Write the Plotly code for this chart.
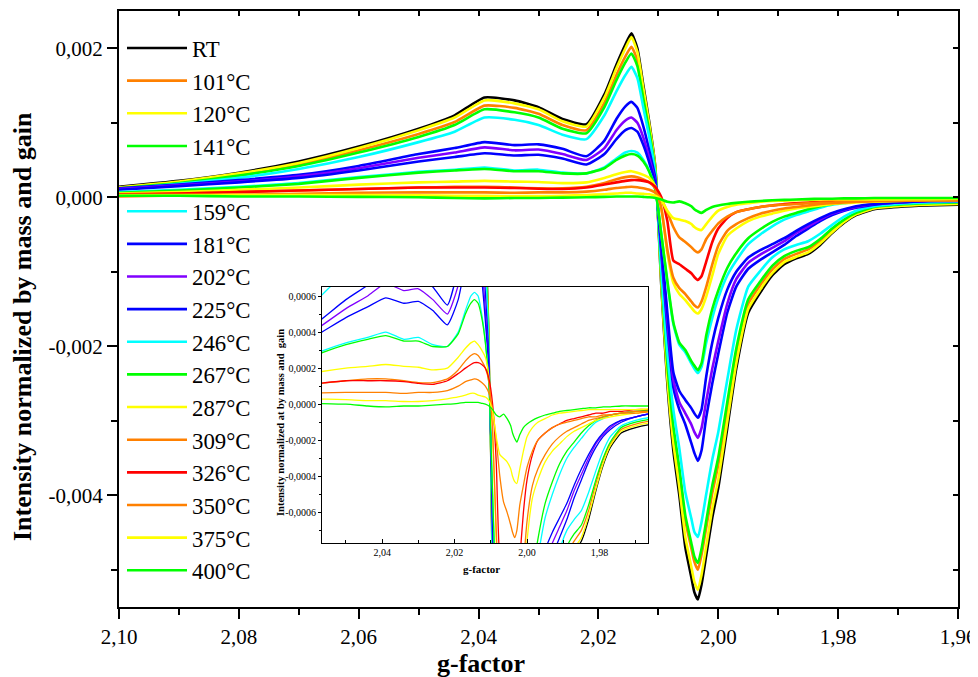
import plotly.graph_objects as go

# ---------------- data (intensity values in units of 1e-4) ----------------
G_FACTOR = [2.100, 2.090, 2.080, 2.070, 2.060, 2.050, 2.044, 2.039, 2.034, 2.030,
            2.026, 2.022, 2.019, 2.017, 2.0155, 2.0145, 2.0135, 2.0125, 2.0115, 2.0105,
            2.0095, 2.0085, 2.0075, 2.0065, 2.0055, 2.0045, 2.0040, 2.0034, 2.0028, 2.0020,
            2.0010, 2.0000, 1.9985, 1.9970, 1.9950, 1.9930, 1.9910, 1.9890, 1.9870, 1.9850,
            1.9830, 1.9810, 1.9790, 1.9770, 1.9740, 1.9700, 1.9650, 1.9600]

LABELS = ["RT", "101°C", "120°C", "141°C", "159°C", "181°C", "202°C", "225°C",
          "246°C", "267°C", "287°C", "309°C", "326°C", "350°C", "375°C", "400°C"]

RT = [1.4, 2.2, 3.3, 4.8, 6.8, 9.2, 11.0, 13.4, 13.0, 12.1,
      10.5, 9.8, 13.8, 17.8, 20.5, 22.0, 20.0, 15.0, 10.0, 4.0,
      -12.0, -25.0, -34.0, -40.0, -47.0, -51.0, -53.0, -54.0, -52.0, -48.0,
      -43.0, -39.0, -31.0, -23.0, -15.5, -12.8, -10.5, -9.0, -8.2, -7.6,
      -6.4, -4.8, -3.4, -2.4, -1.6, -1.3, -1.1, -1.0]
T101 = [1.3, 2.0, 3.0, 4.4, 6.3, 8.5, 10.1, 12.3, 12.0, 11.2,
        9.7, 9.0, 12.7, 16.4, 18.9, 20.2, 18.4, 13.8, 9.2, 3.6,
        -10.9, -23.0, -31.3, -36.9, -43.4, -47.1, -48.9, -50.0, -48.0, -44.3,
        -39.7, -35.9, -28.5, -21.2, -14.3, -11.8, -9.7, -8.3, -7.6, -7.0,
        -5.9, -4.4, -3.1, -2.2, -1.4, -1.1, -0.9, -0.8]
T120 = [1.3, 2.1, 3.2, 4.6, 6.6, 9.0, 10.7, 13.0, 12.6, 11.8,
        10.2, 9.5, 13.4, 17.3, 20.0, 21.5, 19.5, 14.6, 9.7, 3.8,
        -11.6, -24.3, -33.0, -38.9, -45.6, -49.6, -51.6, -52.7, -50.7, -46.8,
        -41.8, -37.9, -30.1, -22.3, -15.0, -12.4, -10.2, -8.7, -8.0, -7.4,
        -6.2, -4.7, -3.3, -2.3, -1.5, -1.2, -1.0, -0.9]
T141 = [1.2, 1.9, 2.9, 4.2, 6.0, 8.1, 9.7, 11.8, 11.4, 10.7,
        9.2, 8.6, 12.1, 15.7, 18.1, 19.3, 17.6, 13.2, 8.8, 3.4,
        -10.6, -22.4, -30.7, -36.3, -42.7, -46.4, -48.2, -49.1, -47.2, -43.4,
        -38.7, -34.9, -27.5, -20.3, -13.7, -11.3, -9.2, -7.9, -7.2, -6.7,
        -5.6, -4.2, -3.0, -2.1, -1.3, -1.0, -0.8, -0.7]
T159 = [1.1, 1.8, 2.6, 3.8, 5.4, 7.4, 8.8, 10.7, 10.4, 9.7,
        8.4, 7.8, 11.0, 14.2, 16.4, 17.5, 16.0, 12.0, 8.0, 3.1,
        -9.9, -20.8, -28.5, -33.7, -39.6, -43.1, -44.9, -45.6, -43.6, -39.8,
        -35.2, -31.5, -24.5, -17.8, -12.0, -9.9, -8.1, -7.0, -6.4, -5.9,
        -4.9, -3.7, -2.6, -1.8, -1.2, -0.9, -0.7, -0.6]
T181 = [1.2, 1.7, 2.3, 3.0, 4.2, 5.8, 6.6, 7.4, 7.0, 7.1,
        6.5, 5.5, 7.6, 10.5, 12.2, 12.8, 12.0, 9.5, 6.2, 2.5,
        -7.5, -17.5, -25.5, -28.5, -30.5, -33.0, -34.3, -35.4, -34.0, -29.5,
        -25.0, -21.0, -15.5, -12.0, -9.6, -8.4, -7.4, -6.4, -5.2, -4.2,
        -3.2, -2.4, -1.8, -1.4, -1.0, -0.7, -0.5, -0.5]
T202 = [1.1, 1.6, 2.1, 2.8, 3.9, 5.3, 6.0, 6.7, 6.3, 6.4,
        5.8, 5.0, 6.6, 9.0, 10.3, 10.7, 10.0, 8.0, 5.2, 2.0,
        -7.0, -16.5, -24.5, -27.5, -29.0, -30.5, -31.5, -32.3, -31.0, -27.3,
        -23.0, -19.3, -14.3, -11.0, -8.8, -7.7, -6.8, -5.9, -4.8, -3.9,
        -3.0, -2.2, -1.7, -1.3, -0.9, -0.7, -0.5, -0.5]
T225 = [1.0, 1.5, 2.0, 2.6, 3.6, 4.8, 5.4, 5.9, 5.6, 5.7,
        5.2, 4.4, 5.8, 7.8, 9.0, 9.3, 8.8, 7.0, 4.6, 1.8,
        -6.5, -15.5, -23.5, -26.0, -27.2, -28.3, -29.0, -29.6, -28.5, -24.0,
        -19.5, -16.2, -12.4, -10.0, -8.1, -7.1, -6.3, -5.5, -4.5, -3.6,
        -2.8, -2.1, -1.6, -1.2, -0.9, -0.7, -0.5, -0.4]
T246 = [0.7, 1.0, 1.4, 1.9, 2.7, 3.4, 3.7, 4.0, 3.6, 3.7,
        3.3, 3.2, 4.0, 5.2, 6.0, 6.2, 6.0, 5.0, 3.5, 1.0,
        -5.0, -11.5, -17.0, -19.8, -20.8, -22.3, -23.0, -23.6, -22.8, -19.5,
        -16.2, -13.5, -10.5, -8.5, -6.3, -5.0, -3.9, -3.0, -2.4, -1.9,
        -1.4, -1.0, -0.8, -0.6, -0.5, -0.4, -0.3, -0.3]
T267 = [0.6, 0.9, 1.3, 1.8, 2.6, 3.3, 3.6, 3.8, 3.5, 3.5,
        3.2, 3.2, 3.9, 5.0, 5.6, 5.8, 5.6, 4.8, 3.4, 1.0,
        -5.0, -11.2, -16.8, -19.5, -20.5, -22.0, -22.6, -23.2, -22.3, -18.5,
        -15.0, -12.5, -9.5, -7.5, -5.5, -4.3, -3.3, -2.6, -2.1, -1.6,
        -1.2, -0.9, -0.7, -0.6, -0.5, -0.4, -0.3, -0.3]
T287 = [0.5, 0.7, 1.0, 1.3, 1.7, 2.0, 2.1, 2.2, 2.1, 2.05,
        1.9, 2.0, 2.6, 3.1, 3.4, 3.5, 3.3, 3.0, 2.6, 1.5,
        -1.5, -7.5, -11.5, -13.0, -13.8, -14.8, -15.3, -15.6, -15.0, -13.3,
        -10.5, -7.6, -5.2, -4.2, -3.2, -2.6, -2.2, -1.8, -1.5, -1.3,
        -1.1, -0.9, -0.8, -0.7, -0.6, -0.5, -0.4, -0.4]
T309 = [0.3, 0.5, 0.7, 0.9, 1.1, 1.3, 1.4, 1.4, 1.3, 1.2,
        1.2, 1.4, 1.9, 2.4, 2.7, 2.8, 2.7, 2.4, 2.0, 1.2,
        -1.5, -7.0, -10.8, -12.2, -13.0, -14.0, -14.5, -14.8, -14.0, -12.0,
        -9.0, -6.5, -4.5, -3.6, -2.8, -2.2, -1.8, -1.5, -1.3, -1.1,
        -0.9, -0.8, -0.7, -0.6, -0.5, -0.4, -0.4, -0.4]
T326 = [0.4, 0.5, 0.7, 0.9, 1.1, 1.3, 1.3, 1.3, 1.25, 1.15,
        1.1, 1.3, 1.7, 2.0, 2.2, 2.3, 2.3, 2.2, 2.0, 1.4,
        0.0, -3.2, -8.5, -9.0, -9.6, -10.2, -10.7, -11.1, -10.6, -8.6,
        -6.0, -4.2, -2.8, -2.0, -1.6, -1.3, -1.1, -0.9, -0.8, -0.7,
        -0.6, -0.5, -0.5, -0.4, -0.4, -0.3, -0.3, -0.3]
T350 = [0.1, 0.25, 0.35, 0.45, 0.6, 0.65, 0.65, 0.65, 0.6, 0.65,
        0.65, 0.75, 1.0, 1.25, 1.35, 1.4, 1.35, 1.2, 1.0, 0.6,
        -0.3, -2.0, -4.0, -5.4, -6.0, -6.7, -7.1, -7.4, -7.0, -5.6,
        -4.5, -3.5, -2.6, -2.0, -1.6, -1.3, -1.1, -1.0, -0.9, -0.8,
        -0.7, -0.7, -0.6, -0.6, -0.5, -0.5, -0.4, -0.4]
T375 = [0.3, 0.3, 0.3, 0.3, 0.3, 0.25, 0.2, 0.2, 0.15, 0.15,
        0.2, 0.3, 0.4, 0.5, 0.6, 0.6, 0.5, 0.45, 0.4, 0.2,
        -0.4, -1.8, -2.8, -3.0, -3.2, -3.6, -4.0, -4.3, -4.4, -3.6,
        -2.6, -1.8, -1.3, -1.0, -0.8, -0.6, -0.5, -0.45, -0.4, -0.35,
        -0.3, -0.3, -0.3, -0.3, -0.3, -0.3, -0.25, -0.2]
T400 = [0.2, 0.2, 0.1, 0.1, 0.05, 0.0, -0.1, -0.15, -0.1, -0.1,
        -0.05, 0.0, 0.05, 0.1, 0.1, 0.1, 0.1, 0.05, 0.0, -0.1,
        -0.3, -0.6, -0.7, -0.55, -0.8, -1.2, -1.6, -1.9, -2.1, -1.7,
        -1.3, -1.1, -0.9, -0.75, -0.6, -0.5, -0.4, -0.35, -0.3, -0.25,
        -0.2, -0.2, -0.15, -0.15, -0.1, -0.1, -0.1, -0.1]

SERIES = [RT, T101, T120, T141, T159, T181, T202, T225,
          T246, T267, T287, T309, T326, T350, T375, T400]
UNIT = 1e-4

Y_TICKVALS = [-0.004, -0.002, 0.0, 0.002]
Y_TICKTEXT = ["-0,004", "-0,002", "0,000", "0,002"]
INSET_Y_TICKVALS = [-0.0006, -0.0004, -0.0002, 0.0, 0.0002, 0.0004, 0.0006]
INSET_Y_TICKTEXT = ["-0,0006", "-0,0004", "-0,0002", "0,0000", "0,0002", "0,0004", "0,0006"]

# ---------------- style ----------------
COLORS = ["#000000", "#ff8000", "#ffff00", "#00ff00", "#00ffff", "#0000ff", "#8000ff", "#0000ff",
          "#00ffff", "#00ff00", "#ffff00", "#ff8000", "#ff0000", "#ff8000", "#ffff00", "#00ff00"]
FONT = "Liberation Serif"
PAGE_W, PAGE_H = 978, 677
BODY = 8                      # default page margin around the plot div
L, R, T, B = 119, 958, 11, 607  # plot area in page pixels


def px(x):
    return (x - L) / (R - L)


def py(y):
    return (B - y) / (B - T)


fig = go.Figure()

for i, (name, vals, col) in enumerate(zip(LABELS, SERIES, COLORS)):
    fig.add_trace(go.Scatter(
        x=G_FACTOR, y=[v * UNIT for v in vals], mode="lines", name=name,
        line=dict(color=col, width=2.6, shape="spline", smoothing=0.5),
        xaxis="x", yaxis="y"))
    if i == 3:
        # empty row present in the original legend
        fig.add_trace(go.Scatter(x=[None], y=[None], mode="lines", name=" ",
                                 line=dict(color="rgba(0,0,0,0)", width=2.6),
                                 hoverinfo="skip"))

# dummy trace carrying the mirrored (top / right) axes
fig.add_trace(go.Scatter(x=[None], y=[None], xaxis="x2", yaxis="y2",
                         showlegend=False, hoverinfo="skip"))

for name, vals, col in zip(LABELS, SERIES, COLORS):
    fig.add_trace(go.Scatter(
        x=G_FACTOR, y=[v * UNIT for v in vals], mode="lines", name=name,
        line=dict(color=col, width=1.3, shape="spline", smoothing=0.5),
        xaxis="x3", yaxis="y3", showlegend=False))

axis_common = dict(showgrid=False, zeroline=False, showline=True,
                   linecolor="black", linewidth=2, tickcolor="black")

fig.update_layout(
    width=PAGE_W - BODY, height=PAGE_H - BODY,
    margin=dict(l=L - BODY, r=PAGE_W - R, t=T - BODY, b=PAGE_H - B, pad=0),
    paper_bgcolor="white", plot_bgcolor="white",
    separators=", ",
    font=dict(family=FONT, color="black"),
    showlegend=True,
    legend=dict(x=px(122), y=py(26.7), xanchor="left", yanchor="top",
                bgcolor="rgba(0,0,0,0)", borderwidth=0, itemwidth=60,
                font=dict(family=FONT, size=22.8, color="black"),
                tracegroupgap=0),
    xaxis=dict(range=[2.10, 1.96], tickmode="linear", tick0=1.96, dtick=0.02,
               tickformat=".2f", ticks="outside", ticklen=10, tickwidth=2,
               tickfont=dict(family=FONT, size=21),
               minor=dict(tick0=1.96, dtick=0.01, ticks="outside", ticklen=6,
                          tickwidth=2, tickcolor="black"),
               domain=[0, 1], anchor="y", **axis_common),
    yaxis=dict(range=[-0.0055, 0.0025], tickmode="array", tickvals=Y_TICKVALS,
               ticktext=Y_TICKTEXT, ticks="outside", ticklen=10, tickwidth=2,
               tickfont=dict(family=FONT, size=21),
               minor=dict(tickvals=[-0.005, -0.003, -0.001, 0.001], ticks="outside",
                          ticklen=6, tickwidth=2, tickcolor="black"),
               domain=[0, 1], anchor="x", **axis_common),
    xaxis2=dict(range=[2.10, 1.96], overlaying="x", side="top", anchor="y",
                tickmode="linear", tick0=1.96, dtick=0.01, ticks="inside",
                ticklen=5, tickwidth=2, showticklabels=False, **axis_common),
    yaxis2=dict(range=[-0.0055, 0.0025], overlaying="y", side="right", anchor="x",
                tickmode="linear", tick0=0, dtick=0.001, ticks="inside",
                ticklen=5, tickwidth=2, showticklabels=False, **axis_common),
    xaxis3=dict(domain=[px(322), px(648)], anchor="y3", range=[2.0566, 1.9666],
                tickmode="linear", tick0=1.98, dtick=0.02, tickformat=".2f",
                ticks="inside", ticklen=4, tickwidth=1,
                tickfont=dict(family=FONT, size=10),
                minor=dict(tick0=1.97, dtick=0.01, ticks="inside", ticklen=3,
                           tickwidth=1, tickcolor="black"),
                showgrid=False, zeroline=False, showline=True, mirror=True,
                linecolor="black", linewidth=1, tickcolor="black"),
    yaxis3=dict(domain=[py(543), py(287)], anchor="x3", range=[-0.00077, 0.00065],
                tickmode="array", tickvals=INSET_Y_TICKVALS, ticktext=INSET_Y_TICKTEXT,
                ticks="outside", ticklen=3, tickwidth=1,
                tickfont=dict(family=FONT, size=10),
                minor=dict(tickvals=[-0.0007, -0.0005, -0.0003, -0.0001, 0.0001, 0.0003, 0.0005],
                           ticks="outside", ticklen=2, tickwidth=1, tickcolor="black"),
                showgrid=False, zeroline=False, showline=True, mirror=True,
                linecolor="black", linewidth=1, tickcolor="black"),
)

title_common = dict(xref="paper", yref="paper", showarrow=False,
                    xanchor="center", yanchor="middle")
annotations = [
    dict(text="<b>g-factor</b>", x=px(481), y=py(663),
         font=dict(family=FONT, size=26), **title_common),
    dict(text="<b>Intensity normalized by mass and gain</b>", x=px(22), y=py(327),
         textangle=-90, font=dict(family=FONT, size=26), **title_common),
    dict(text="<b>g-factor</b>", x=px(481), y=py(569),
         font=dict(family=FONT, size=11), **title_common),
    dict(text="<b>Intensity normalized at by mass and  gain</b>", x=px(280), y=py(423),
         textangle=-90, font=dict(family=FONT, size=10.5), **title_common),
]
fig.update_layout(annotations=annotations)

fig.write_html("out.html")
